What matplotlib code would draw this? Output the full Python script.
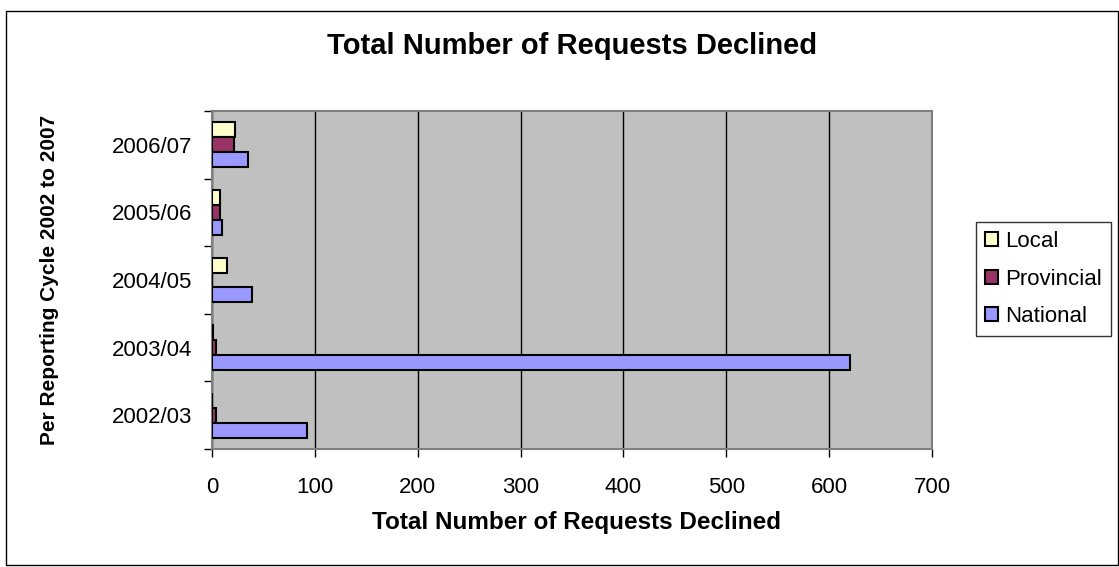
import matplotlib
matplotlib.use("Agg")
import matplotlib.pyplot as plt
import numpy as np
from matplotlib.patches import Rectangle

plt.rcParams['font.family'] = ['Liberation Sans', 'DejaVu Sans']

categories = ["2002/03", "2003/04", "2004/05", "2005/06", "2006/07"]
local = [0, 1, 15, 8, 22]
provincial = [4, 4, 0, 8, 21]
national = [92, 620, 39, 10, 35]
series_names = ["Local", "Provincial", "National"]
colors = ["#FFFFCC", "#993366", "#9999FF"]

W, H = 1119, 567
fig = plt.figure(figsize=(W / 100, H / 100), dpi=100)
L, R, T, B = 212, 932, 111, 449
ax = fig.add_axes([L / W, 1 - B / H, (R - L) / W, (B - T) / H])
ax.set_facecolor("#C0C0C0")

y = np.arange(len(categories))
bh = 0.22
for i, (vals, name, c) in enumerate(zip([local, provincial, national], series_names, colors)):
    ax.barh(y + (1 - i) * bh, vals, height=bh, color=c, edgecolor="black",
            linewidth=1.5, label=name, zorder=3)

ax.set_xlim(0, 700)
ax.set_ylim(-0.5, len(categories) - 0.5)
ax.set_xticks(np.arange(0, 701, 100))
ax.xaxis.grid(True, color="black", linewidth=1, zorder=1)
ax.set_yticks(y)
ax.set_yticklabels(categories, fontsize=16)
ax.set_yticks(np.arange(-0.5, len(categories), 1), minor=True)
ax.tick_params(axis='y', which='major', length=0, pad=14)
ax.tick_params(axis='y', which='minor', length=6, width=1)
ax.tick_params(axis='x', labelsize=16, length=6, width=1, pad=14)
for s in ["top", "right", "left", "bottom"]:
    ax.spines[s].set_color("#808080")
    ax.spines[s].set_linewidth(1.5)

ax.set_xlabel("Total Number of Requests Declined", fontsize=17.5, fontweight="bold")
ax.xaxis.label.set_va("center")
ax.xaxis.set_label_coords((576 - L) / (R - L), (B - 523) / (B - T))
ax.set_ylabel("Per Reporting Cycle 2002 to 2007", fontsize=15, fontweight="bold")
ax.yaxis.label.set_va("center")
ax.yaxis.set_label_coords((50 - L) / (R - L), 0.5)
fig.text(572 / W, 1 - 46 / H, "Total Number of Requests Declined", fontsize=21,
         fontweight="bold", ha="center", va="center")

leg = fig.legend(loc="upper left", bbox_to_anchor=(976 / W, 1 - 222 / H), fontsize=16,
                 frameon=True, fancybox=False, edgecolor="black", handlelength=0.6,
                 handleheight=0.6, handletextpad=0.3, labelspacing=0.75, borderpad=0.4,
                 borderaxespad=0)
leg.get_frame().set_linewidth(1)

fig.patches.append(Rectangle((6 / W, 1 - 565 / H), (1118 - 6) / W, (565 - 11) / H,
                             transform=fig.transFigure, fill=False, edgecolor="black",
                             linewidth=1))

fig.savefig("out.png", dpi=100)
